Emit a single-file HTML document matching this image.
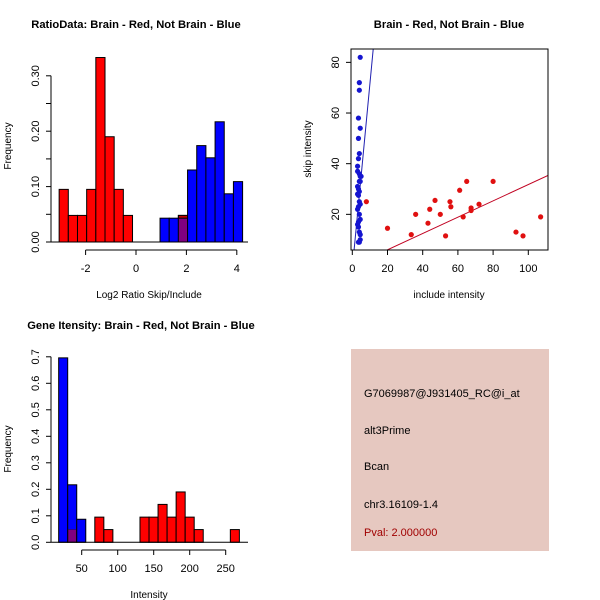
<!DOCTYPE html>
<html><head><meta charset="utf-8"><style>
body{margin:0;background:#fff}
svg{display:block;font-family:"Liberation Sans",sans-serif}
</style></head><body>
<svg id="s" width="600" height="600">
<rect width="600" height="600" fill="#fff"/>
<text x="136" y="28" font-size="11.2" font-weight="bold" text-anchor="middle">RatioData: Brain - Red, Not Brain - Blue</text>
<text x="149" y="298" font-size="10" text-anchor="middle">Log2 Ratio Skip/Include</text>
<text transform="translate(11,146) rotate(-90)" font-size="10" text-anchor="middle">Frequency</text>
<text x="449" y="28" font-size="11.2" font-weight="bold" text-anchor="middle">Brain - Red, Not Brain - Blue</text>
<text x="449" y="298" font-size="10" text-anchor="middle">include intensity</text>
<text transform="translate(311,149) rotate(-90)" font-size="10" text-anchor="middle">skip intensity</text>
<text x="141" y="329" font-size="11.2" font-weight="bold" text-anchor="middle">Gene Itensity: Brain - Red, Not Brain - Blue</text>
<text x="149" y="598" font-size="10" text-anchor="middle">Intensity</text>
<text transform="translate(11,449) rotate(-90)" font-size="10" text-anchor="middle">Frequency</text>
<g>
<rect x="351" y="349" width="198" height="202" fill="#e6c8c0"/>
<text x="364" y="397" font-size="11">G7069987@J931405_RC@i_at</text>
<text x="364" y="434" font-size="11">alt3Prime</text>
<text x="364" y="470" font-size="11">Bcan</text>
<text x="364" y="508" font-size="11">chr3.16109-1.4</text>
<text x="364" y="536" font-size="11" fill="#a00000">Pval: 2.000000</text>
</g>
</svg>
<script>
// Ratio histogram
const ratioStart=-3.05, ratioWidth=0.364;
const ratioRed=[0.095,0.048,0.048,0.095,0.333,0.19,0.095,0.048,0,0,0,0,0,0.048];
const ratioBlueStartBin=11;
const ratioBlue=[0.043,0.043,0.043,0.13,0.174,0.152,0.217,0.087,0.109];
const ratioXTicks=[-2,0,2,4];
const ratioYTicks=[0,0.05,0.1,0.15,0.2,0.25,0.3];
const ratioYLabels=["0.00","","0.10","","0.20","","0.30"];
// Scatter
const blueX=[4.5,4,4,3.5,4.5,3.5,4,3.5,3,3,4,4.5,5,4,4.5,3,3.5,4,3,3.5,4,4.5,3.5,3,4,4.5,3.5,3,3.5,4,4.5,4.5,4,3.5];
const blueY=[82,72,69,58,54,50,44,42,39,37,36,35,35,33,33,31,30,29,28,27.5,25,24,23,22,20,18,17,16,15,13,12,10,9,9];
const redX=[8,20,33.5,36,43,44,47,50,53,55.5,56,61,63,65,67.5,67.5,72,80,93,97,107];
const redY=[25,14.5,12,20,16.5,22,25.5,20,11.5,25,23,29.5,19,33,22.5,21.5,24,33,13,11.5,19];
const redFit=[-0.44,0.322];
const blueFit=[-1.5,7.3];
const scXTicks=[0,20,40,60,80,100];
const scYTicks=[20,40,60,80];
// Intensity histogram
const intStart=18, intWidth=12.55;
const intBlue=[0.696,0.217,0.087];
const intRed=[0,0.048,0,0,0.095,0.048,0,0,0,0.095,0.095,0.143,0.095,0.19,0.095,0.048,0,0,0,0.048];
const intXTicks=[50,100,150,200,250];
const intYTicks=[0,0.1,0.2,0.3,0.4,0.5,0.6,0.7];

const svg=document.getElementById('s');
const NS='http://www.w3.org/2000/svg';
function mk(tag,at,parent){const e=document.createElementNS(NS,tag);for(const k in at)e.setAttribute(k,at[k]);(parent||svg).appendChild(e);return e;}

// ---- Ratio histogram
const rx=v=>136+v*25.2, ry=v=>242-v*554;
const g1=mk('g',{});


ratioRed.forEach((v,i)=>{ if(v<=0)return;
  const r=mk('rect',{x:rx(ratioStart+i*ratioWidth),y:ry(v),width:ratioWidth*25.2,height:ry(0)-ry(v),fill:'#ff0000',stroke:'#000','stroke-width':1},g1);
  
  
});
ratioBlue.forEach((v,j)=>{ const i=ratioBlueStartBin+j;
  const r=mk('rect',{x:rx(ratioStart+i*ratioWidth),y:ry(v),width:ratioWidth*25.2,height:ry(0)-ry(v),fill:'#0000ff',stroke:'#000','stroke-width':1},g1);
  
  
  const rv=ratioRed[i]||0;
  if(rv>0){const o=mk('rect',{x:rx(ratioStart+i*ratioWidth)+0.5,y:ry(Math.min(v,rv)),width:ratioWidth*25.2-1,height:ry(0)-ry(Math.min(v,rv))-0.5,fill:'#800080'},g1);
    
    
    if(rv>v){const t=mk('rect',{x:rx(ratioStart+i*ratioWidth),y:ry(rv),width:ratioWidth*25.2,height:ry(v)-ry(rv),fill:'#c00000',stroke:'#000'},g1);
      
      }
  }
});
mk('line',{x1:51,x2:248,y1:242,y2:242,stroke:'#000'},g1);
mk('line',{x1:rx(ratioXTicks[0]),x2:rx(ratioXTicks[ratioXTicks.length-1]),y1:250,y2:250,stroke:'#000'},g1);
ratioXTicks.forEach(t=>{mk('line',{x1:rx(t),x2:rx(t),y1:250,y2:255,stroke:'#000'},g1);
  const l=mk('text',{x:rx(t),y:272,'font-size':11,'text-anchor':'middle'},g1);l.textContent=t;
  
  });
mk('line',{x1:51,x2:51,y1:ry(0),y2:ry(0.3),stroke:'#000'},g1);
ratioYTicks.forEach((t,i)=>{mk('line',{x1:46,x2:51,y1:ry(t),y2:ry(t),stroke:'#000'},g1);
  if(ratioYLabels[i]){const l=mk('text',{transform:`translate(39,${ry(t)}) rotate(-90)`,'font-size':11,'text-anchor':'middle'},g1);l.textContent=ratioYLabels[i];
  
  }});

// ---- Scatter
const sx=v=>352.3+v*1.76, sy=v=>265-v*2.533;
const g2=mk('g',{});


const cp=mk('clipPath',{id:'cp'},g2);mk('rect',{x:351,y:49,width:197,height:201},cp);
const fr=mk('line',{x1:sx(0),x2:sx(120),y1:sy(redFit[0]),y2:sy(redFit[0]+redFit[1]*120),stroke:'#c00020','clip-path':'url(#cp)'},g2);


const fb=mk('line',{x1:sx(0),x2:sx(15),y1:sy(blueFit[0]),y2:sy(blueFit[0]+blueFit[1]*15),stroke:'#2020b0','clip-path':'url(#cp)'},g2);


blueX.forEach((x,i)=>{const c=mk('circle',{cx:sx(x),cy:sy(blueY[i]),r:2.6,fill:'#1515d0'},g2);
  
  });
redX.forEach((x,i)=>{const c=mk('circle',{cx:sx(x),cy:sy(redY[i]),r:2.6,fill:'#e01010'},g2);
  
  });
mk('rect',{x:351,y:49,width:197,height:201,fill:'none',stroke:'#000'},g2);
scXTicks.forEach(t=>{mk('line',{x1:sx(t),x2:sx(t),y1:250,y2:255,stroke:'#000'},g2);
  const l=mk('text',{x:sx(t),y:272,'font-size':11,'text-anchor':'middle'},g2);l.textContent=t;
  
  });
scYTicks.forEach(t=>{mk('line',{x1:346,x2:351,y1:sy(t),y2:sy(t),stroke:'#000'},g2);
  const l=mk('text',{transform:`translate(339,${sy(t)}) rotate(-90)`,'font-size':11,'text-anchor':'middle'},g2);l.textContent=t;
  
  });

// ---- Intensity histogram
const ix=v=>45.7+v*0.72, iy=v=>542.3-v*265;
const g3=mk('g',{});


intRed.forEach((v,i)=>{ if(v<=0||i<intBlue.length)return;
  const r=mk('rect',{x:ix(intStart+i*intWidth),y:iy(v),width:intWidth*0.72,height:iy(0)-iy(v),fill:'#ff0000',stroke:'#000'},g3);
  
  });
intBlue.forEach((v,i)=>{
  const r=mk('rect',{x:ix(intStart+i*intWidth),y:iy(v),width:intWidth*0.72,height:iy(0)-iy(v),fill:'#0000ff',stroke:'#000'},g3);
  
  
  const rv=intRed[i];
  if(rv>0){const o=mk('rect',{x:ix(intStart+i*intWidth)+0.5,y:iy(Math.min(v,rv)),width:intWidth*0.72-1,height:iy(0)-iy(Math.min(v,rv))-0.5,fill:'#800080',stroke:'#400040','stroke-width':0.5},g3);
    
    }
});
mk('line',{x1:51,x2:248,y1:542.3,y2:542.3,stroke:'#000'},g3);
mk('line',{x1:ix(50),x2:ix(250),y1:550,y2:550,stroke:'#000'},g3);
intXTicks.forEach(t=>{mk('line',{x1:ix(t),x2:ix(t),y1:550,y2:555,stroke:'#000'},g3);
  const l=mk('text',{x:ix(t),y:572,'font-size':11,'text-anchor':'middle'},g3);l.textContent=t;
  
  });
mk('line',{x1:51,x2:51,y1:iy(0),y2:iy(0.7),stroke:'#000'},g3);
intYTicks.forEach(t=>{mk('line',{x1:46,x2:51,y1:iy(t),y2:iy(t),stroke:'#000'},g3);
  const l=mk('text',{transform:`translate(39,${iy(t)}) rotate(-90)`,'font-size':11,'text-anchor':'middle'},g3);l.textContent=t.toFixed(1);
  
  });
</script>
</body></html>
